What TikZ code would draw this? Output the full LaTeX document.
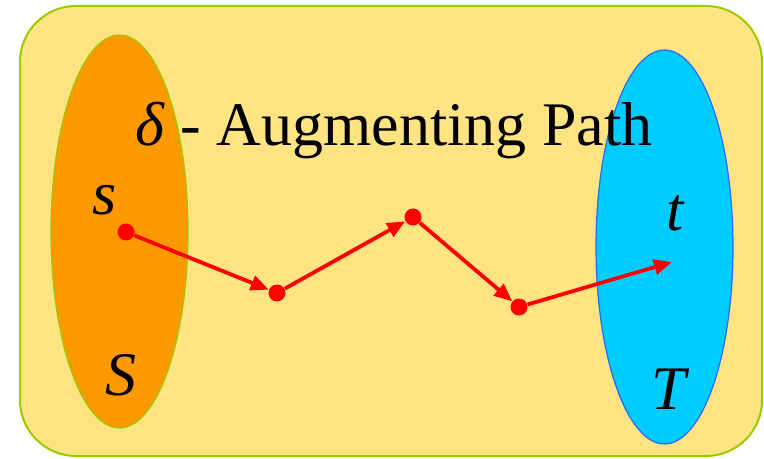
\documentclass[tikz,border=0pt]{standalone}
\usepackage{fontspec}
\setmainfont{Liberation Serif}
\usetikzlibrary{arrows.meta}
\definecolor{bgyellow}{HTML}{FFE481}
\definecolor{bordergreen}{HTML}{99CC00}
\definecolor{sorange}{HTML}{FF9900}
\definecolor{tblue}{HTML}{00CCFF}
\definecolor{tborder}{HTML}{3366FF}
\definecolor{pathred}{HTML}{FF0000}
\begin{document}
\begin{tikzpicture}[x=0.5pt,y=-0.5pt,
  dot/.style={circle,fill=pathred,inner sep=0pt,minimum size=8.5pt},
  arc/.style={draw=pathred,line width=1.9pt,-{Triangle[length=9pt,width=7.5pt]}},
  lbl/.style={font=\fontsize{31}{36}\selectfont\itshape,inner sep=0pt,anchor=base}]
\useasboundingbox (0,0) rectangle (764,459);
\draw[fill=bgyellow,draw=bordergreen,line width=1pt,rounded corners=28pt] (20,6) rectangle (762,456);
\draw[fill=sorange,draw=bordergreen,line width=0.6pt] (119.5,231.5) ellipse [x radius=68.5,y radius=196.5];
\draw[fill=tblue,draw=tborder,line width=0.6pt] (664.5,247) ellipse [x radius=68.5,y radius=197];
\node[anchor=base west,inner sep=0pt,font=\fontsize{31}{36}\selectfont] (title) at (135,146) {\textit{δ} - Augmenting Path};
\node[dot] (s) at (126,232) {};
\node[dot] (p1) at (277,293) {};
\node[dot] (p2) at (413,217) {};
\node[dot] (p3) at (519,307) {};
\coordinate (tend) at (672,262);
\draw[arc] (s) -- (p1);
\draw[arc] (p1) -- (p2);
\draw[arc] (p2) -- (p3);
\draw[arc] (p3) -- (tend);
\node[lbl] (ls) at (105,215) {s};
\node[lbl] (lt) at (675,231) {t};
\node[lbl] (lS) at (121,395) {S};
\node[lbl] (lT) at (669,409) {T};
\end{tikzpicture}
\end{document}
